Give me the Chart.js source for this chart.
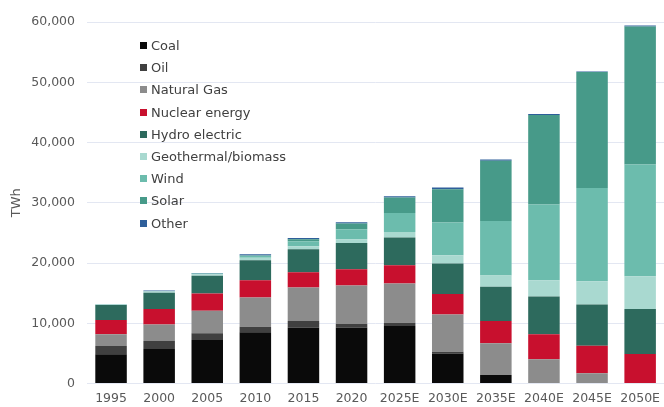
<!DOCTYPE html>
<html>
<head>
<meta charset="utf-8">
<script src="https://cdn.jsdelivr.net/npm/chart.js@4.4.0/dist/chart.umd.min.js"></script>
<style>
  html, body { margin: 0; padding: 0; background: #fff; overflow: hidden; }
  #wrap { position: relative; width: 668px; height: 407px; }
  #legenda { position: absolute; left: 140px; top: 35px; font-family: "DejaVu Sans", sans-serif;
    font-size: 13px; color: #404040; }
  #legenda div { height: 22.2px; line-height: 22.2px; white-space: nowrap; }
  #legenda span { display: inline-block; width: 7px; height: 7px; margin-right: 4px; vertical-align: 1px; }
</style>
</head>
<body>
<div id="wrap">
  <canvas id="grafico"></canvas>
  <div id="legenda"></div>
</div>
<script>
let anos = ['1995', '2000', '2005', '2010', '2015', '2020', '2025E', '2030E', '2035E', '2040E', '2045E', '2050E']

let coal    = [4840, 5720, 7210, 8490, 9250, 9250, 9530, 5000, 1410, 0, 0, 0]
let oil     = [1375, 1325, 1110, 930, 1110, 610, 550, 270, 0, 0, 0, 0]
let gas     = [1940, 2765, 3750, 4870, 5585, 6420, 6530, 6200, 5250, 4010, 1690, 0]
let nuclear = [2370, 2540, 2880, 2865, 2535, 2700, 3030, 3365, 3700, 4145, 4575, 4890]
let hydro   = [2490, 2700, 2920, 3315, 3810, 4360, 4590, 5085, 5685, 6295, 6860, 7460]
let geo     = [130, 220, 280, 390, 480, 610, 930, 1380, 1885, 2705, 3865, 5470]
let wind    = [10, 30, 100, 340, 830, 1660, 3150, 5420, 9060, 12545, 15470, 18510]
let solar   = [0, 5, 5, 60, 330, 940, 2550, 5520, 10000, 14860, 19230, 22930]
let other   = [60, 150, 70, 200, 240, 220, 220, 280, 170, 160, 110, 160]

let nomes = ['Coal', 'Oil', 'Natural Gas', 'Nuclear energy', 'Hydro electric',
    'Geothermal/biomass', 'Wind', 'Solar', 'Other']
let cores = ['#0a0a0a', '#404040', '#8c8c8c', '#c8102e', '#2d6a5d',
    '#a9d9d0', '#6cbcad', '#479a89', '#2e5f9a']
let series = [coal, oil, gas, nuclear, hydro, geo, wind, solar, other]

let datasets = series.map(function(s, i){
    return {
        label: nomes[i],
        data: s,
        backgroundColor: cores[i],
        borderWidth: 0,
        barPercentage: 0.655,
        categoryPercentage: 1
    }
})

// legenda em html, por cima da area do grafico
let leg = document.getElementById('legenda')
nomes.forEach(function(n, i){
    let d = document.createElement('div')
    d.innerHTML = '<span style="background:' + cores[i] + '"></span>' + n
    leg.appendChild(d)
})

let fonte = { family: 'DejaVu Sans', size: 12.5 }

new Chart(document.getElementById('grafico'), {
    type: 'bar',
    data: { labels: anos, datasets: datasets },
    options: {
        responsive: true,
        maintainAspectRatio: false,
        animation: false,
        layout: { padding: { top: 22, left: 0, right: 0, bottom: 0 } },
        plugins: { legend: { display: false }, tooltip: { enabled: false } },
        scales: {
            x: {
                stacked: true,
                grid: { display: false, drawTicks: false },
                border: { display: false },
                ticks: { color: '#595959', font: fonte, padding: 8, maxRotation: 0, autoSkip: false },
                afterFit: function(s){ s.height = 23.5 }
            },
            y: {
                stacked: true,
                min: 0,
                max: 60000,
                grid: { color: '#e3e7f2', drawTicks: false, lineWidth: 1 },
                border: { display: false },
                ticks: {
                    stepSize: 10000,
                    color: '#595959',
                    font: fonte,
                    padding: 12,
                    callback: function(v){ return v.toLocaleString('en-US') }
                },
                title: { display: true, text: 'TWh', color: '#595959',
                    font: { family: 'DejaVu Sans', size: 13 }, padding: { top: 9, bottom: 0 } },
                afterFit: function(s){ s.width = 87 }
            }
        }
    }
})
</script>
</body>
</html>
